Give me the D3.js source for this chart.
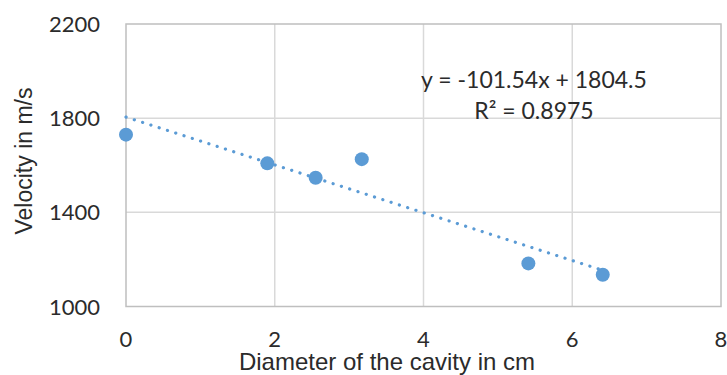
<!DOCTYPE html>
<html>
  <head>
    <meta http-equiv="Content-Type" content="text/html;charset=utf-8"/>
    <script src="https://d3js.org/d3.v7.min.js"></script>
    <style>
      body { margin: 0; background: #fff; }
    </style>
  </head>
  <body>
    <script type="text/javascript">

// data
var diameter = [0, 1.9, 2.55, 3.17, 5.41, 6.41];
var velocity = [1730, 1608, 1547, 1626, 1183, 1135];
var xTicks = [0, 2, 4, 6, 8];
var yTicks = [1000, 1400, 1800, 2200];
var slope = -101.54, intercept = 1804.5;
var eqText = "y = -101.54x + 1804.5";
var r2Text = "R\u00b2 = 0.8975";

var w = 727, h = 375;
var pLeft = 126, pRight = 721, pTop = 24, pBottom = 306.5;
var blue = "#5b9bd5";
var ink = "#2b2b2b";

var svg = d3.select("body").append("svg")
  .attr("width", w)
  .attr("height", h);

var x = d3.scaleLinear().domain([0, 8]).range([pLeft, pRight]);
var y = d3.scaleLinear().domain([1000, 2200]).range([pBottom, pTop]);

// grid
svg.append("g").selectAll("line")
  .data(xTicks.slice(1, -1))
  .enter().append("line")
  .attr("x1", d => x(d)).attr("x2", d => x(d))
  .attr("y1", pTop).attr("y2", pBottom)
  .attr("stroke", "#d9d9d9").attr("stroke-width", 1.5);
svg.append("g").selectAll("line")
  .data(yTicks.slice(1, -1))
  .enter().append("line")
  .attr("x1", pLeft).attr("x2", pRight)
  .attr("y1", d => y(d)).attr("y2", d => y(d))
  .attr("stroke", "#d9d9d9").attr("stroke-width", 1.5);

// frame
svg.append("rect")
  .attr("x", pLeft).attr("y", pTop)
  .attr("width", pRight - pLeft).attr("height", pBottom - pTop)
  .attr("fill", "none").attr("stroke", "#bfbfbf").attr("stroke-width", 1.5);

// tick labels
svg.append("g").selectAll("text")
  .data(yTicks)
  .enter().append("text")
  .attr("x", 100).attr("y", d => y(d) + 8)
  .attr("text-anchor", "end")
  .style("font-family", "Lato, sans-serif")
  .style("font-size", "22px")
  .attr("fill", ink)
  .text(d => d);
svg.append("g").selectAll("text")
  .data(xTicks)
  .enter().append("text")
  .attr("x", d => x(d)).attr("y", 347)
  .attr("text-anchor", "middle")
  .style("font-family", "Lato, sans-serif")
  .style("font-size", "22px")
  .attr("fill", ink)
  .text(d => d);

// trendline
var xMax = d3.max(diameter);
svg.append("line")
  .attr("x1", x(0)).attr("y1", y(intercept))
  .attr("x2", x(xMax)).attr("y2", y(intercept + slope * xMax))
  .attr("stroke", blue).attr("stroke-width", 3.2)
  .attr("stroke-linecap", "round")
  .attr("stroke-dasharray", "0.1 8.6");

// points
svg.append("g").selectAll("circle")
  .data(diameter)
  .enter().append("circle")
  .attr("cx", d => x(d))
  .attr("cy", (d, i) => y(velocity[i]))
  .attr("r", 7)
  .attr("fill", blue);

// equation
svg.append("text")
  .attr("x", 534).attr("y", 88)
  .attr("text-anchor", "middle")
  .style("font-family", "Lato, sans-serif")
  .style("font-size", "23px")
  .attr("fill", ink)
  .text(eqText);
svg.append("text")
  .attr("x", 534).attr("y", 119)
  .attr("text-anchor", "middle")
  .style("font-family", "Lato, sans-serif")
  .style("font-size", "23px")
  .attr("fill", ink)
  .text(r2Text);

// axis titles
svg.append("text")
  .attr("x", 387).attr("y", 370)
  .attr("text-anchor", "middle")
  .style("font-family", "'Liberation Sans', Arial, sans-serif")
  .style("font-size", "24px")
  .attr("fill", ink)
  .text("Diameter of the cavity in cm");
svg.append("text")
  .attr("transform", "translate(32,161) rotate(-90)")
  .attr("text-anchor", "middle")
  .style("font-family", "'Liberation Sans', Arial, sans-serif")
  .style("font-size", "23px")
  .attr("fill", ink)
  .text("Velocity in m/s");

    </script>
  </body>
</html>
